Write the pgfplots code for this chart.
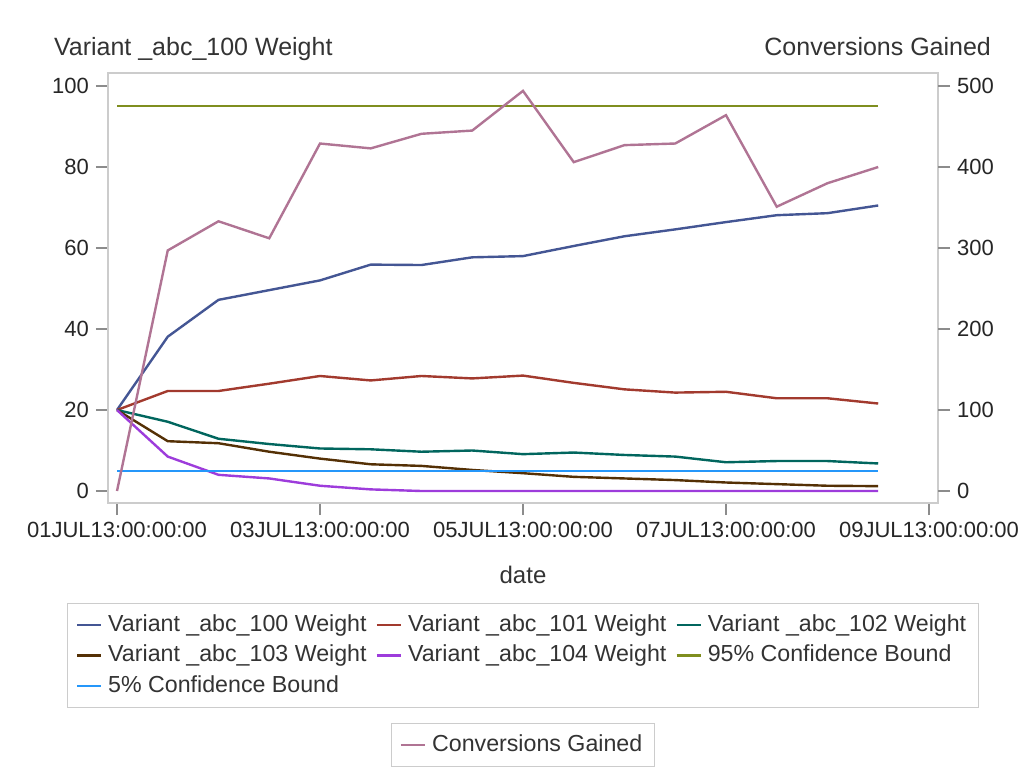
\documentclass[border=0pt]{standalone}
\usepackage{pgfplots}
\pgfplotsset{compat=1.18}
\usepackage{pgfplotstable}
\usepackage{fontspec}
\setmainfont{Liberation Sans}

\definecolor{cA}{HTML}{445694}
\definecolor{cB}{HTML}{A23A2E}
\definecolor{cC}{HTML}{01665E}
\definecolor{cD}{HTML}{543005}
\definecolor{cE}{HTML}{9D3CDB}
\definecolor{cF}{HTML}{7F8E1F}
\definecolor{cG}{HTML}{2597FA}
\definecolor{cConv}{HTML}{B07494}
\definecolor{framegray}{HTML}{CCCCCC}
\definecolor{tickgray}{HTML}{8C8C8C}
\definecolor{txt}{HTML}{333333}

% days after 01JUL13, half-day steps
\pgfplotstableread{
t    w100  w101  w102  w103  w104  conv
0    20    20    20    20    20    0
0.5  38.1  24.7  17.1  12.3  8.5   297
1    47.2  24.7  12.9  11.8  4.0   333
1.5  49.6  26.5  11.6  9.7   3.1   312
2    52.0  28.4  10.5  8.0   1.3   429
2.5  55.9  27.3  10.3  6.6   0.4   423
3    55.8  28.4  9.7   6.2   0.0   441
3.5  57.7  27.8  10.0  5.2   0.0   445
4    58.0  28.5  9.1   4.4   0.0   494
4.5  60.5  26.7  9.5   3.5   0.0   406
5    62.9  25.1  8.9   3.1   0.0   427
5.5  64.6  24.3  8.5   2.7   0.0   429
6    66.4  24.5  7.1   2.1   0.0   464
6.5  68.1  22.9  7.4   1.7   0.0   351
7    68.6  22.9  7.4   1.3   0.0   380
7.5  70.5  21.6  6.8   1.2   0.0   400
}\weights

\pgfplotsset{
  shared/.style={
    at={(0,0)}, anchor=south west,
    scale only axis, width=415pt, height=215pt,
    xmin=-0.0887, xmax=8.089,
    tick align=outside, major tick length=6pt,
    tick style={draw=tickgray, line width=0.6pt},
    tick label style={font=\fontsize{11}{13}\selectfont, text=black!85},
    /pgf/number format/assume math mode=true,
    legend cell align=left,
    legend image code/.code={\draw[##1, line width=1.2pt] (0pt,0pt) -- (12pt,0pt);},
    legend style={draw=framegray, font=\fontsize{11.6}{14}\selectfont, text=txt,
      inner xsep=4pt, inner ysep=3pt, column sep=1pt, row sep=0pt,
      nodes={inner sep=2pt, text height=8.8pt, text depth=2.5pt},
      /tikz/every even column/.append style={column sep=2.5pt}},
  },
}

\begin{document}
\begin{tikzpicture}
\path[use as bounding box] (-54pt,-137.5pt) rectangle (459pt,251.5pt);

\begin{axis}[
    shared,
    ymin=-2.963, ymax=103.21,
    xtick={0,2,4,6,8},
    xticklabels={01JUL13:00:00:00, 03JUL13:00:00:00, 05JUL13:00:00:00, 07JUL13:00:00:00, 09JUL13:00:00:00},
    ytick={0,20,40,60,80,100},
    xtick pos=left, ytick pos=left,
    axis line style={draw=framegray, line width=0.6pt},
    xlabel={date},
    ylabel={Variant \_abc\_100 Weight},
    every axis x label/.style={at={(rel axis cs:0.5,0)}, anchor=base, yshift=-40pt,
      font=\fontsize{12}{14}\selectfont, text=txt},
    every axis y label/.style={at={(rel axis cs:0,1)}, anchor=base west, xshift=-30.5pt, yshift=9pt,
      font=\fontsize{12.5}{14}\selectfont, text=txt},
    legend columns=3,
    legend style={at={(0.5,0)}, anchor=north, yshift=-50pt},
]
\addplot[cA, line width=1.2pt] table[x=t, y=w100] {\weights};
\addlegendentry{Variant \_abc\_100 Weight}
\addplot[cB, line width=1.2pt] table[x=t, y=w101] {\weights};
\addlegendentry{Variant \_abc\_101 Weight}
\addplot[cC, line width=1.2pt] table[x=t, y=w102] {\weights};
\addlegendentry{Variant \_abc\_102 Weight}
\addplot[cD, line width=1.2pt] table[x=t, y=w103] {\weights};
\addlegendentry{Variant \_abc\_103 Weight}
\addplot[cE, line width=1.2pt] table[x=t, y=w104] {\weights};
\addlegendentry{Variant \_abc\_104 Weight}
\addplot[cF, line width=1.2pt] coordinates {(0,95) (7.5,95)};
\addlegendentry{95\% Confidence Bound}
\addplot[cG, line width=1.2pt] coordinates {(0,5) (7.5,5)};
\addlegendentry{5\% Confidence Bound}
\end{axis}

\begin{axis}[
    shared,
    ymin=-14.81, ymax=516.05,
    ytick={0,100,200,300,400,500},
    ytick pos=right, yticklabel pos=right,
    hide x axis,
    axis line style={draw=none},
    ylabel={Conversions Gained},
    every axis y label/.style={at={(rel axis cs:1,1)}, anchor=base east, xshift=30pt, yshift=9pt,
      font=\fontsize{12.5}{14}\selectfont, text=txt},
    legend style={at={(0.5,0)}, anchor=north, yshift=-110pt},
]
\addplot[cConv, line width=1.2pt] table[x=t, y=conv] {\weights};
\addlegendentry{Conversions Gained}
\end{axis}
\end{tikzpicture}
\end{document}
